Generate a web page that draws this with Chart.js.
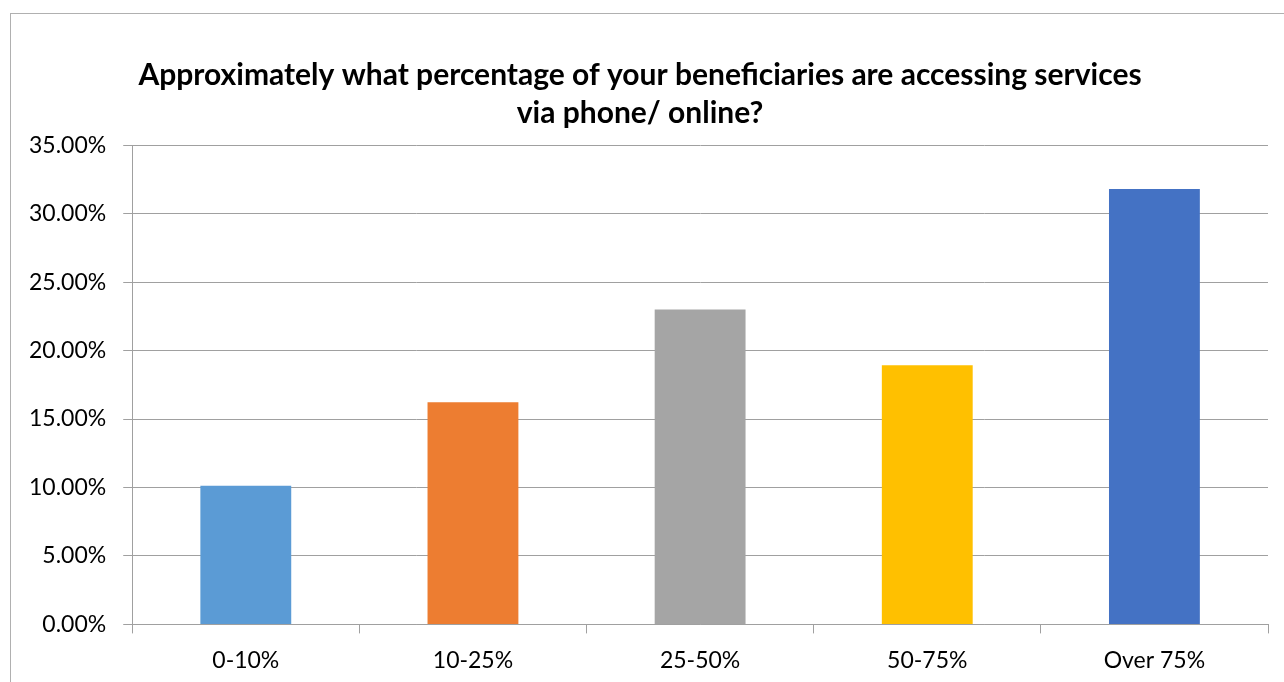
<!DOCTYPE html>
<html>
<head>
<meta charset="utf-8">
<script src="https://cdn.jsdelivr.net/npm/chart.js@4"></script>
<style>
    html, body { margin: 0; padding: 0; background: #fff; overflow: hidden; }
    #wrap { position: relative; width: 1284px; height: 682px; }
    #frame { position: absolute; left: 10px; top: 13px; width: 1300px; height: 700px; border: 1px solid #b0b0b0; pointer-events: none; }
</style>
</head>
<body>
<div id="wrap">
    <canvas id="myChart" width="1284" height="682"></canvas>
    <div id="frame"></div>
</div>
<script>
const categories = ['0-10%', '10-25%', '25-50%', '50-75%', 'Over 75%'];
const shares = [10.13, 16.23, 23.0, 18.92, 31.8];
const barColors = ['#5B9BD5', '#ED7D31', '#A5A5A5', '#FFC000', '#4472C4'];
const titleLines = ['Approximately what percentage of your beneficiaries are accessing services', 'via phone/ online?'];

document.addEventListener('DOMContentLoaded', () => {
    const ctx = document.getElementById('myChart').getContext('2d');
    new Chart(ctx, {
        type: 'bar',
        data: {
            labels: categories,
            datasets: [{
                data: shares,
                backgroundColor: barColors,
                borderWidth: 0,
                barPercentage: 0.4,
                categoryPercentage: 1
            }]
        },
        options: {
            responsive: false,
            animation: false,
            layout: { padding: { left: 12, right: 16, top: 56, bottom: -5 } },
            plugins: {
                legend: { display: false },
                tooltip: { enabled: false },
                title: {
                    display: true,
                    text: titleLines,
                    color: '#000',
                    font: { family: 'Lato', size: 30, weight: 'bold', lineHeight: 1.27 },
                    padding: { top: 0, bottom: 13 }
                }
            },
            scales: {
                x: {
                    grid: { drawOnChartArea: false, drawTicks: true, tickLength: 9, color: '#a0a0a0', offset: true },
                    border: { color: '#a0a0a0' },
                    ticks: { color: '#000', font: { family: 'Lato', size: 23 }, padding: 13 }
                },
                y: {
                    min: 0,
                    max: 35,
                    grid: { color: '#a0a0a0', tickLength: 9 },
                    border: { color: '#a0a0a0' },
                    ticks: {
                        stepSize: 5,
                        color: '#000',
                        font: { family: 'Lato', size: 23 },
                        padding: 17,
                        callback: value => value.toFixed(2) + '%'
                    }
                }
            }
        }
    });
});
</script>
</body>
</html>
